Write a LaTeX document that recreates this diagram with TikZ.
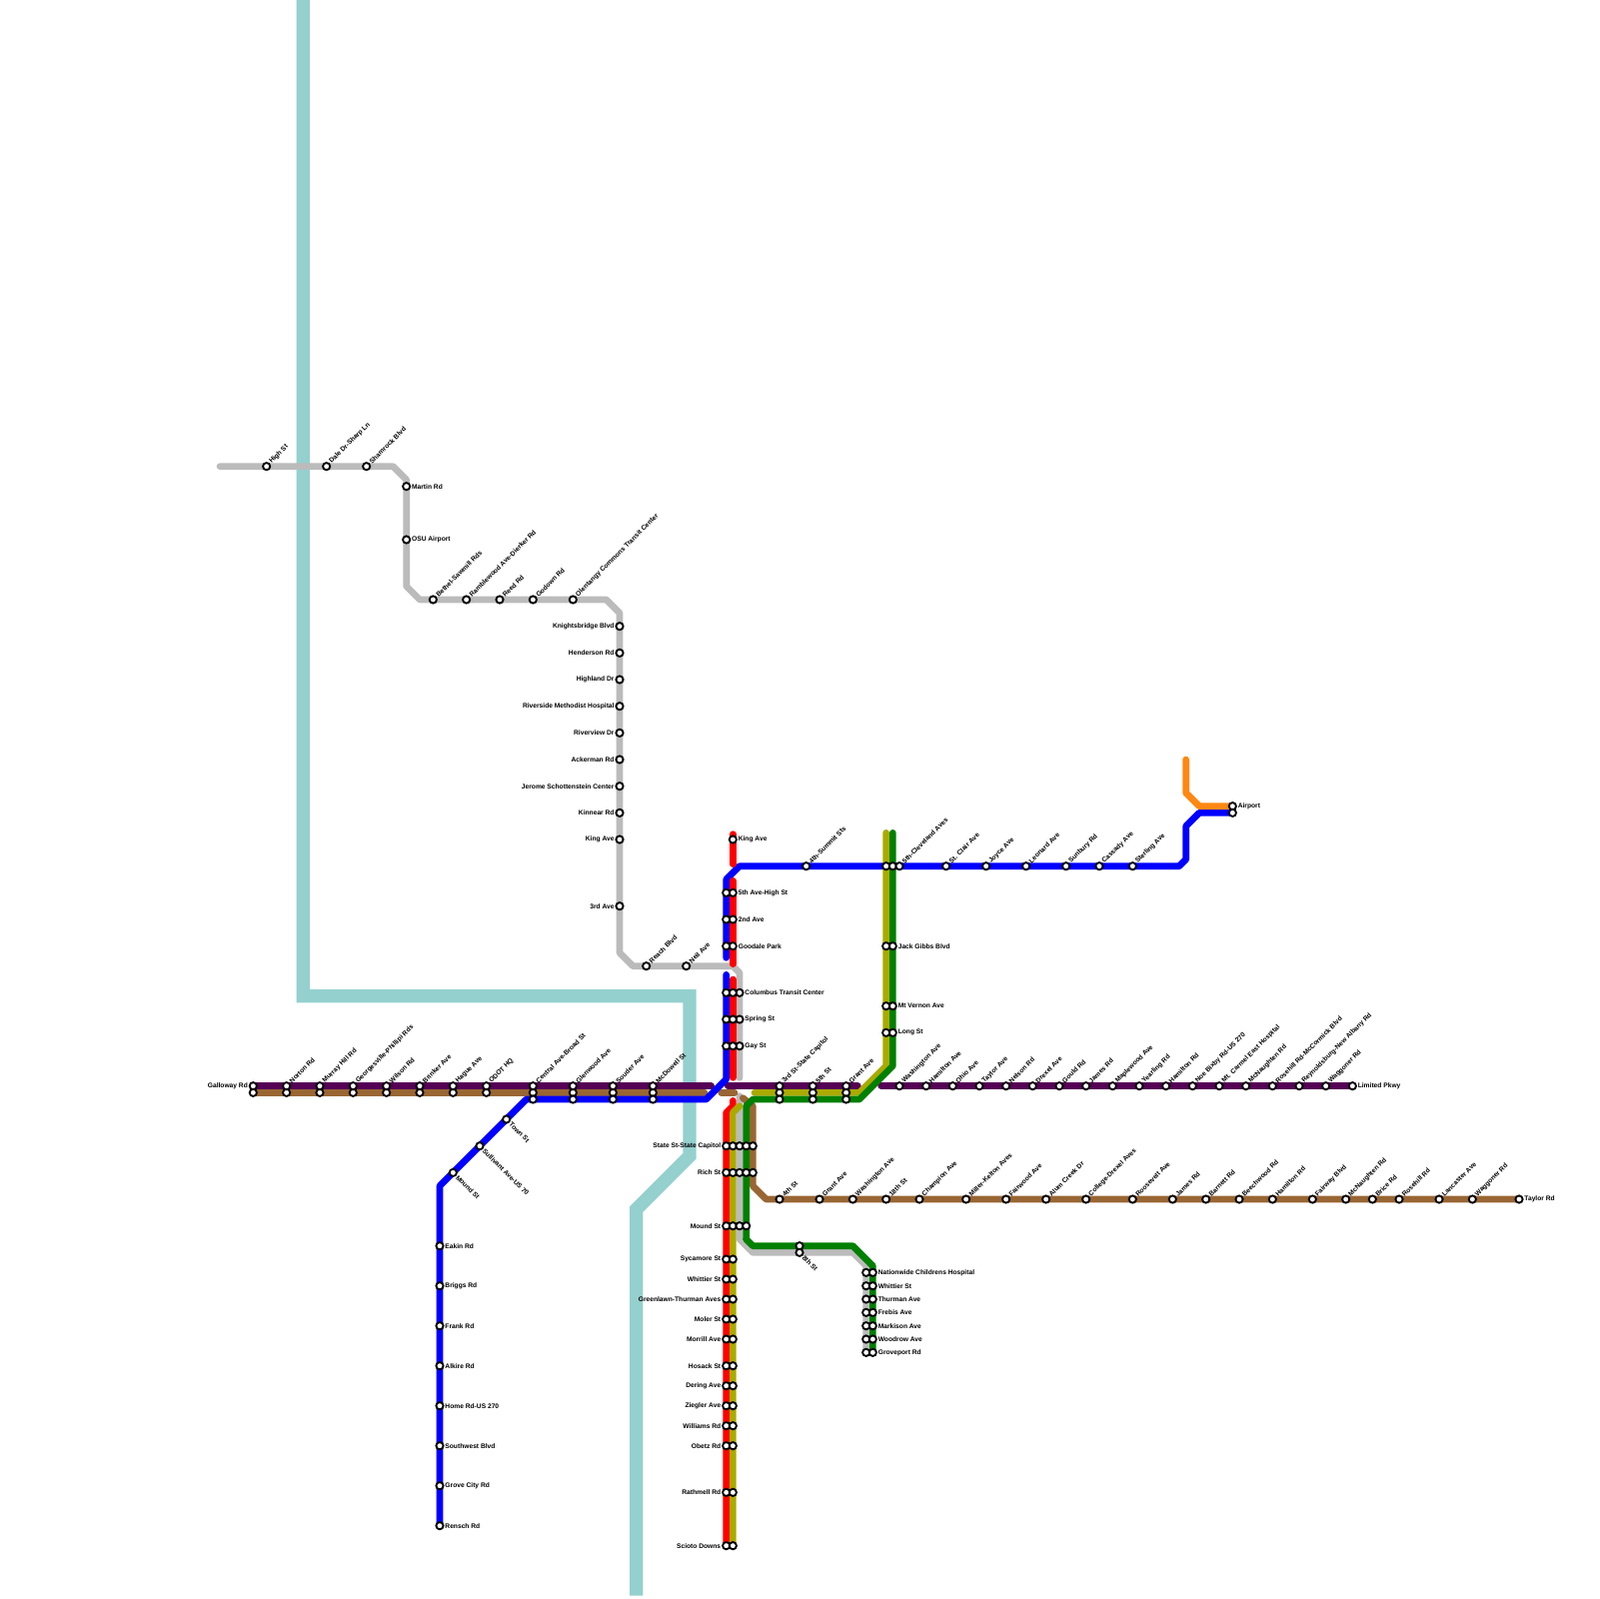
\documentclass[tikz,border=0pt]{standalone}
\usepackage{fontspec}
\setmainfont{Liberation Sans}
\newcommand{\lblfont}{\fontsize{2.845pt}{3pt}\selectfont\bfseries}
\definecolor{cteal}{RGB}{148,208,206}
\definecolor{cgray}{RGB}{187,187,187}
\definecolor{cbrown}{RGB}{153,102,51}
\definecolor{cpurple}{RGB}{85,0,85}
\definecolor{colive}{RGB}{170,170,0}
\definecolor{cgreen}{RGB}{0,128,0}
\definecolor{cblue}{RGB}{0,0,255}
\definecolor{cred}{RGB}{255,0,0}
\definecolor{corange}{RGB}{255,136,17}
\tikzset{
  route/.style={line width=1mm,line cap=round,line join=round},
  wideroute/.style={line width=2mm,line cap=butt,line join=miter},
  stn/.style={circle,draw=black,fill=white,line width=.28mm,inner sep=0pt,minimum size=1.08mm},
  lab/.style={font=\lblfont,inner sep=0pt,text=black},
  labE/.style={lab,anchor=west},
  labW/.style={lab,anchor=east},
  labNE/.style={lab,anchor=west,rotate=45},
  labSE/.style={lab,anchor=west,rotate=-45}
}
% station rows: one or more circles, one label
\newcommand{\rowNE}[1]{\foreach \x/\y/\t in {#1}{\path (\x,\y) ++(.55,-.55) node[labNE]{\t};\node[stn,name=s\x-\y] at (\x,\y){};}}
\newcommand{\rowSE}[1]{\foreach \x/\y/\t in {#1}{\path (\x,\y) ++(.55,.55) node[labSE]{\t};\node[stn,name=s\x-\y] at (\x,\y){};}}
\newcommand{\rowE}[1]{\foreach \x/\y/\t in {#1}{\path (\x,\y) ++(.75,0) node[labE]{\t};\node[stn,name=s\x-\y] at (\x,\y){};}}
\newcommand{\rowW}[1]{\foreach \x/\y/\t in {#1}{\path (\x,\y) ++(-.75,0) node[labW]{\t};\node[stn,name=s\x-\y] at (\x,\y){};}}
\newcommand{\onlydots}[1]{\foreach \x/\y in {#1}{\node[stn,name=s\x-\y] at (\x,\y){};}}
\begin{document}
\begin{tikzpicture}[x=1mm,y=-1mm]
\useasboundingbox (0,0) rectangle (240,240);
\fill[white] (0,0) rectangle (240,240);
% teal
\draw[wideroute,cteal] (45.5,0) -- (45.5,149.5) -- (103.5,149.5) -- (103.5,173.5) -- (95.5,181.5) -- (95.5,239.5);
% gray
\draw[route,cgray] (33,70) -- (59,70) -- (61,72) -- (61,88) -- (63,90) -- (91,90) -- (93,92) -- (93,143) -- (95,145) -- (110,145) -- (111,146) -- (111,161.75);
\draw[route,cgray] (111,164.5) -- (111,186) -- (113,188) -- (128,188) -- (130,190) -- (130,203);
% purple
\draw[route,cpurple] (38,163) -- (106.75,163);
\draw[route,cpurple] (109.25,163) -- (128.75,163);
\draw[route,cpurple] (132.25,163) -- (203,163);
% brown
\draw[route,cbrown] (38,164) -- (105.75,164);
\draw[route,cbrown] (108.25,164) -- (110.25,164);
\draw[route,cbrown] (111.5,164.8) -- (113,166) -- (113,178) -- (115,180) -- (228,180);
% blue
\draw[route,cblue] (66,229) -- (66,178) -- (79,165) -- (106,165) -- (109,162) -- (109,146.3);
\draw[route,cblue] (109,143.75) -- (109,132) -- (111,130) -- (177,130) -- (178,129) -- (178,124) -- (180,122) -- (185,122);
% orange
\draw[route,corange] (178,114) -- (178,119) -- (180,121) -- (185,121);
% red
\draw[route,cred] (110,125.2) -- (110,129.7);
\draw[route,cred] (110,132.2) -- (110,144.7);
\draw[route,cred] (110,147) -- (110,161.75);
\draw[route,cred] (110,165.2) -- (110,166) -- (109,167) -- (109,232);
% olive
\draw[route,colive] (111,166) -- (110,167) -- (110,232);
\draw[route,colive] (113.25,164) -- (129,164) -- (133,160) -- (133,125);
% green
\draw[route,cgreen] (112,186) -- (112,166) -- (113,165) -- (129,165) -- (134,160) -- (134,125);
\draw[route,cgreen] (112,186) -- (113,187) -- (128,187) -- (131,190) -- (131,203);
% gray line stations
\rowNE{40/70/High St,49/70/Dale Dr-Sharp Ln,55/70/Shamrock Blvd,65/90/Bethel-Sawmill Rds,70/90/Ramblewood Ave-Dierker Rd,75/90/Reed Rd,80/90/Godown Rd,86/90/Olentangy Commons Transit Center,97/145/Reach Blvd,103/145/Neil Ave}
\rowE{61/73/Martin Rd,61/81/OSU Airport}
\rowW{93/94/Knightsbridge Blvd,93/98/Henderson Rd,93/102/Highland Dr,93/106/Riverside Methodist Hospital,93/110/Riverview Dr,93/114/Ackerman Rd,93/118/Jerome Schottenstein Center,93/122/Kinnear Rd,93/126/King Ave,93/136/3rd Ave}
% north trunk
\rowE{110/126/King Ave,110/134/5th Ave-High St,110/138/2nd Ave,110/142/Goodale Park,111/149/Columbus Transit Center,111/153/Spring St,111/157/Gay St,134/142/Jack Gibbs Blvd,134/151/Mt Vernon Ave,134/155/Long St}
\onlydots{109/134,109/138,109/142,109/149,110/149,109/153,110/153,109/157,110/157,133/130,134/130,133/142,133/151,133/155}
% blue east
\rowNE{121/130/4th-Summit Sts,135/130/5th-Cleveland Aves,142/130/St. Clair Ave,148/130/Joyce Ave,154/130/Leonard Ave,160/130/Sunbury Rd,165/130/Cassady Ave,170/130/Sterling Ave}
\rowE{185/121/Airport}
\onlydots{185/122}
% west trunk
\rowW{38/163/Galloway Rd}
\onlydots{38/164,43/164,48/164,53/164,58/164,63/164,68/164,73/164,80/164,86/164,92/164,98/164,80/165,86/165,92/165,98/165,117/164,122/164,127/164,117/165,122/165,127/165}
\rowNE{43/163/Norton Rd,48/163/Murray Hill Rd,53/163/Georgesville-Phillipi Rds,58/163/Wilson Rd,63/163/Brinker Ave,68/163/Hague Ave,73/163/ODOT HQ,80/163/Central Ave-Broad St,86/163/Glenwood Ave,92/163/Souder Ave,98/163/McDowell St,117/163/3rd St-State Capitol,122/163/5th St,127/163/Grant Ave}
% blue southwest
\rowSE{76/168/Town St,72/172/Sullivant Ave-US 70,68/176/Mound St}
\rowE{66/187/Eakin Rd,66/193/Briggs Rd,66/199/Frank Rd,66/205/Alkire Rd,66/211/Home Rd-US 270,66/217/Southwest Blvd,66/223/Grove City Rd,66/229/Rensch Rd}
% purple east
\rowNE{135/163/Washington Ave,139/163/Hamilton Ave,143/163/Ohio Ave,147/163/Taylor Ave,151/163/Nelson Rd,155/163/Drexel Ave,159/163/Gould Rd,163/163/James Rd,167/163/Maplewood Ave,171/163/Yearling Rd,175/163/Hamilton Rd,179/163/Noe Bixby Rd-US 270,183/163/Mt. Carmel East Hospital,187/163/McNaughten Rd,191/163/Rosehill Rd-McCormick Blvd,195/163/Reynoldsburg-New Albany Rd,199/163/Waggoner Rd}
\rowE{203/163/Limited Pkwy}
% brown east
\rowNE{117/180/4th St,123/180/Grant Ave,128/180/Washington Ave,133/180/18th St,138/180/Champion Ave,145/180/Miller-Kelton Aves,151/180/Fairwood Ave,157/180/Alum Creek Dr,163/180/College-Drexel Aves,170/180/Roosevelt Ave,176/180/James Rd,181/180/Barnett Rd,186/180/Beechwood Rd,191/180/Hamilton Rd,197/180/Fairway Blvd,202/180/McNaughten Rd,206/180/Brice Rd,210/180/Rosehill Rd,216/180/Lancaster Ave,221/180/Waggoner Rd}
\rowE{228/180/Taylor Rd}
% south trunk
\rowW{109/172/State St-State Capitol,109/176/Rich St,109/184/Mound St,109/189/Sycamore St,109/192/Whittier St,109/195/Greenlawn-Thurman Aves,109/198/Moler St,109/201/Morrill Ave,109/205/Hosack St,109/208/Dering Ave,109/211/Ziegler Ave,109/214/Williams Rd,109/217/Obetz Rd,109/224/Rathmell Rd,109/232/Scioto Downs}
\onlydots{110/172,111/172,112/172,113/172,110/176,111/176,112/176,113/176,110/184,111/184,112/184,110/189,110/192,110/195,110/198,110/201,110/205,110/208,110/211,110/214,110/217,110/224,110/232}
% southeast branch
\onlydots{120/187}
\rowSE{120/188/8th St}
\onlydots{130/191,130/193,130/195,130/197,130/199,130/201,130/203}
\rowE{131/191/Nationwide Childrens Hospital,131/193/Whittier St,131/195/Thurman Ave,131/197/Frebis Ave,131/199/Markison Ave,131/201/Woodrow Ave,131/203/Groveport Rd}
\end{tikzpicture}
\end{document}
